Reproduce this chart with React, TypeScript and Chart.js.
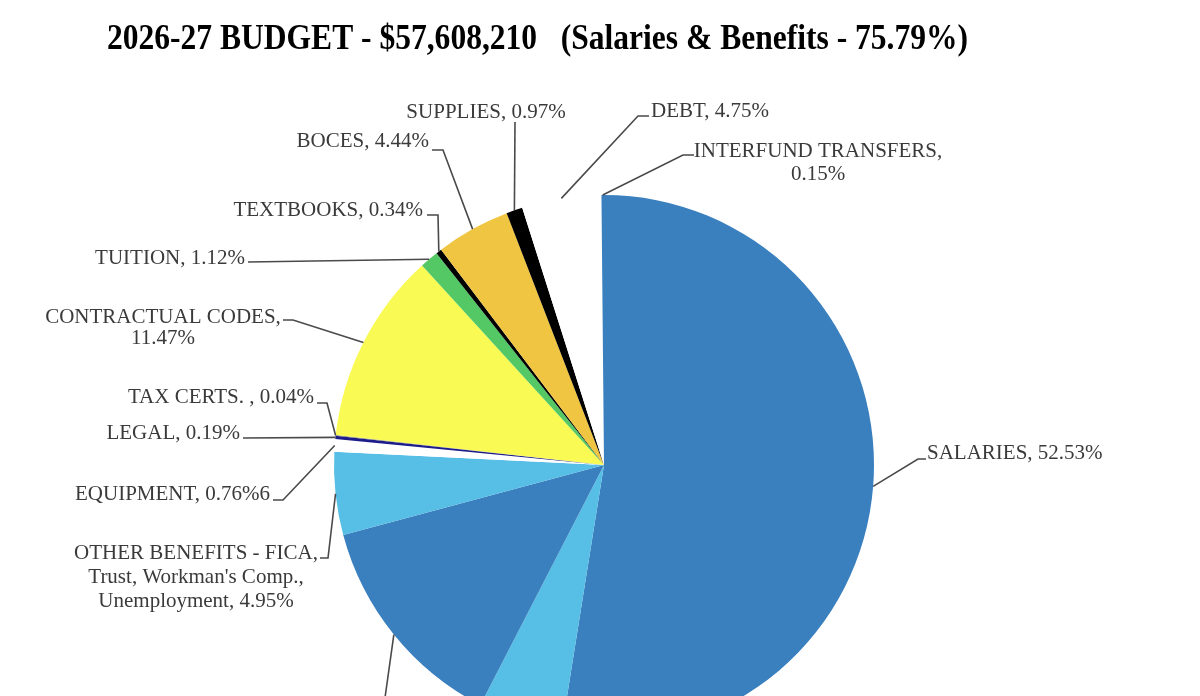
import React, { useEffect, useRef } from "react";
import { Chart, registerables } from "chart.js";

Chart.register(...registerables);

const TITLE = "2026-27 BUDGET - $57,608,210   (Salaries & Benefits - 75.79%)";

const categories = [
  "SALARIES",
  "RETIREMENT",
  "HEALTH INSURANCE",
  "OTHER BENEFITS - FICA, Trust, Workman's Comp., Unemployment",
  "EQUIPMENT",
  "LEGAL",
  "TAX CERTS. ",
  "CONTRACTUAL CODES",
  "TUITION",
  "TEXTBOOKS",
  "BOCES",
  "SUPPLIES",
  "DEBT",
  "INTERFUND TRANSFERS",
];

const percentages = [52.53, 5.05, 13.26, 4.95, 0.76, 0.19, 0.04, 11.47, 1.12, 0.34, 4.44, 0.97, 4.75, 0.15];

const labelTexts: string[][] = [
  ["SALARIES, 52.53%"],
  ["RETIREMENT, 5.05%"],
  ["HEALTH INSURANCE, 13.26%"],
  ["OTHER BENEFITS - FICA,", "Trust, Workman's Comp.,", "Unemployment, 4.95%"],
  ["EQUIPMENT, 0.76%6"],
  ["LEGAL, 0.19%"],
  ["TAX CERTS. , 0.04%"],
  ["CONTRACTUAL CODES,", "11.47%"],
  ["TUITION, 1.12%"],
  ["TEXTBOOKS, 0.34%"],
  ["BOCES, 4.44%"],
  ["SUPPLIES, 0.97%"],
  ["DEBT, 4.75%"],
  ["INTERFUND TRANSFERS,", "0.15%"],
];

const sliceColors = [
  "#3A7FBE",
  "#57BEE5",
  "#3A7FBE",
  "#57BEE5",
  "#FFFFFF",
  "#1C1C8A",
  "#7F7F7F",
  "#FAFA55",
  "#55C866",
  "#000000",
  "#F0C542",
  "#000000",
  "#FFFFFF",
  "#3A7FBE",
];

// label layout: text anchor (x, y of first line centre), alignment, line height, leader path after the arc point
type Layout = { x: number; y: number; align: CanvasTextAlign; lh: number; path: number[][] };
const labelLayout: Layout[] = [
  { x: 927, y: 452, align: "left", lh: 24, path: [[918, 459], [926, 459]] },
  { x: 560, y: 780, align: "center", lh: 24, path: [[560, 760]] },
  { x: 300, y: 730, align: "center", lh: 24, path: [[383, 712], [375, 712]] },
  { x: 196, y: 552, align: "center", lh: 24.3, path: [[328, 558], [320, 558]] },
  { x: 270, y: 493, align: "right", lh: 24, path: [[283, 500], [273, 500]] },
  { x: 240, y: 432, align: "right", lh: 24, path: [[243, 438]] },
  { x: 314, y: 396, align: "right", lh: 24, path: [[327, 403], [317, 403]] },
  { x: 163, y: 316, align: "center", lh: 21.5, path: [[293, 320], [283, 320]] },
  { x: 245, y: 257, align: "right", lh: 24, path: [[248, 262]] },
  { x: 423, y: 209, align: "right", lh: 24, path: [[438, 215], [427, 215]] },
  { x: 429, y: 140, align: "right", lh: 24, path: [[443, 150], [432, 150]] },
  { x: 486, y: 111, align: "center", lh: 24, path: [[515, 122]] },
  { x: 651, y: 110, align: "left", lh: 24, path: [[638, 116], [649, 116]] },
  { x: 818, y: 150, align: "center", lh: 23.5, path: [[683, 155], [694, 155]] },
];

const labelPlugin = {
  id: "budgetLabels",
  afterDraw(chart: any) {
    const ctx: CanvasRenderingContext2D = chart.ctx;
    const meta = chart.getDatasetMeta(0);
    ctx.save();
    // title (slightly condensed, like the reference)
    ctx.fillStyle = "#000000";
    ctx.textBaseline = "alphabetic";
    ctx.textAlign = "left";
    const size = 35;
    ctx.font = `bold ${size}px "Liberation Serif", "Times New Roman", serif`;
    const w = ctx.measureText(TITLE).width;
    const sx = 861 / w;
    ctx.save();
    ctx.translate(107, 49);
    ctx.scale(sx, 1);
    ctx.fillText(TITLE, 0, 0);
    ctx.restore();

    // labels and leaders
    ctx.font = `21px "Liberation Serif", "Times New Roman", serif`;
    meta.data.forEach((arc: any, i: number) => {
      const lay = labelLayout[i];
      if (!lay) return;
      const p = arc.getProps(["x", "y", "startAngle", "endAngle", "outerRadius"], true);
      const mid = (p.startAngle + p.endAngle) / 2;
      const ax = p.x + Math.cos(mid) * p.outerRadius;
      const ay = p.y + Math.sin(mid) * p.outerRadius;
      ctx.strokeStyle = "#4a4a4a";
      ctx.lineWidth = 1.6;
      ctx.beginPath();
      ctx.moveTo(ax, ay);
      lay.path.forEach((pt) => ctx.lineTo(pt[0], pt[1]));
      ctx.stroke();

      ctx.fillStyle = "#3a3a3a";
      ctx.textAlign = lay.align;
      ctx.textBaseline = "middle";
      labelTexts[i].forEach((line, k) => {
        ctx.fillText(line, lay.x, lay.y + k * lay.lh + 1);
      });
    });
    ctx.restore();
  },
};

export default function App() {
  const ref = useRef<HTMLCanvasElement | null>(null);
  useEffect(() => {
    if (!ref.current) return;
    const chart = new Chart(ref.current, {
      type: "pie",
      data: {
        labels: categories,
        datasets: [
          {
            data: percentages,
            backgroundColor: sliceColors,
            borderWidth: 0,
          },
        ],
      },
      options: {
        responsive: false,
        animation: false,
        devicePixelRatio: 1,
        layout: { padding: { left: 334, right: 326, top: 195, bottom: 265 } },
        plugins: {
          legend: { display: false },
          tooltip: { enabled: false },
          title: { display: false },
        },
      },
      plugins: [labelPlugin],
    });
    return () => chart.destroy();
  }, []);
  return (
    <div
      style={{
        position: "fixed",
        left: 0,
        top: 0,
        width: 1200,
        height: 696,
        overflow: "hidden",
        background: "#ffffff",
      }}
    >
      <canvas ref={ref} width={1200} height={1000} style={{ display: "block" }} />
    </div>
  );
}
